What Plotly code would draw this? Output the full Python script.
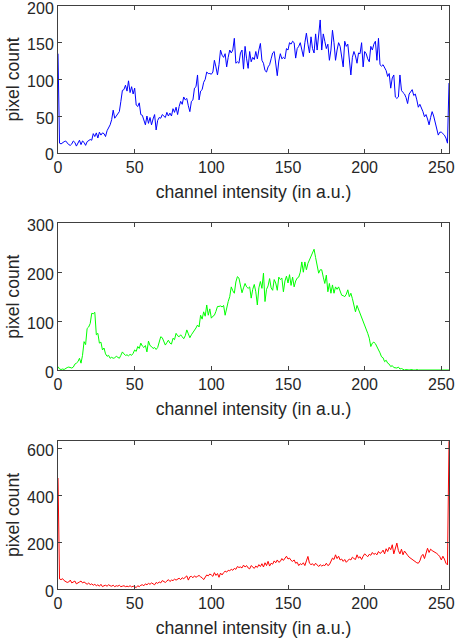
import plotly.graph_objects as go

channel = list(range(256))

blue_counts = [
    135, 13, 12, 14, 15, 16, 13, 11, 10, 12, 16, 14, 9, 13, 17, 11,
    16, 14, 10, 15, 16, 18, 17, 26, 22, 27, 20, 28, 24, 27, 26, 22,
    30, 34, 38, 45, 58, 47, 50, 52, 56, 70, 85, 86, 92, 84, 98, 82,
    90, 80, 88, 65, 63, 68, 52, 51, 45, 38, 50, 40, 48, 38, 46, 52,
    31, 44, 48, 47, 52, 50, 48, 55, 50, 54, 50, 60, 55, 62, 52, 63,
    70, 66, 76, 72, 74, 64, 56, 70, 72, 88, 90, 106, 72, 84, 86, 96,
    100, 110, 108, 108, 107, 110, 126, 117, 106, 120, 140, 133, 130, 135, 117, 130,
    140, 136, 140, 156, 122, 124, 122, 136, 140, 114, 145, 128, 115, 138, 124, 130,
    127, 138, 128, 140, 149, 126, 122, 112, 110, 117, 120, 128, 136, 138, 120, 105,
    125, 135, 128, 130, 128, 142, 140, 150, 148, 152, 150, 129, 142, 145, 150, 138,
    131, 150, 163, 148, 136, 158, 142, 136, 162, 140, 158, 181, 140, 162, 152, 142,
    148, 126, 140, 167, 150, 126, 140, 150, 145, 133, 117, 152, 145, 148, 130, 106,
    130, 138, 132, 122, 136, 135, 150, 117, 138, 135, 128, 124, 145, 140, 148, 152,
    126, 156, 120, 118, 120, 115, 112, 104, 108, 88, 102, 106, 76, 74, 76, 106,
    85, 82, 80, 75, 67, 80, 84, 86, 78, 80, 72, 62, 66, 62, 56, 49,
    52, 46, 38, 48, 56, 50, 42, 30, 24, 28, 28, 26, 24, 20, 13, 95,
]

green_counts = [
    7, 2, 1, 2, 1, 4, 5, 6, 5, 4, 6, 12, 14, 17, 24, 14,
    30, 58, 52, 85, 88, 95, 116, 115, 118, 72, 75, 55, 57, 41, 45, 33,
    28, 30, 24, 26, 24, 25, 28, 25, 24, 30, 37, 33, 30, 31, 29, 32,
    30, 34, 41, 38, 48, 44, 55, 49, 46, 50, 37, 59, 50, 48, 44, 46,
    42, 46, 58, 68, 66, 58, 51, 56, 61, 55, 53, 65, 62, 75, 70, 68,
    72, 68, 64, 70, 82, 74, 66, 72, 76, 82, 86, 92, 88, 112, 104, 119,
    110, 133, 112, 125, 106, 110, 112, 120, 130, 130, 131, 129, 132, 112, 128, 140,
    150, 170, 162, 157, 180, 191, 188, 172, 158, 168, 177, 170, 167, 170, 147, 165,
    175, 160, 133, 168, 181, 167, 198, 140, 165, 172, 187, 168, 163, 185, 178, 163,
    190, 185, 188, 160, 182, 192, 178, 195, 173, 190, 170, 182, 188, 190, 200, 221,
    200, 221, 205, 218, 225, 235, 240, 247, 230, 215, 198, 205, 205, 190, 177, 194,
    160, 177, 157, 174, 157, 170, 165, 170, 160, 153, 152, 150, 155, 164, 150, 157,
    146, 130, 119, 132, 124, 115, 110, 100, 92, 85, 75, 65, 48, 55, 57, 54,
    48, 44, 35, 27, 25, 17, 20, 14, 12, 7, 9, 5, 5, 4, 6, 2,
    3, 1, 0, 1, 0, 0, 1, 0, 0, 0, 1, 0, 0, 0, 0, 1,
    0, 0, 0, 0, 1, 0, 0, 0, 0, 0, 0, 1, 0, 0, 0, 0,
]

red_counts = [
    474, 43, 40, 44, 36, 32, 28, 30, 38, 26, 30, 34, 22, 28, 30, 34,
    26, 30, 24, 20, 26, 18, 22, 16, 20, 14, 18, 12, 20, 10, 14, 16,
    12, 18, 14, 12, 16, 10, 14, 12, 16, 10, 12, 14, 10, 12, 10, 14,
    9, 12, 10, 6, 14, 10, 16, 18, 14, 22, 18, 24, 20, 26, 22, 18,
    28, 24, 30, 26, 36, 30, 28, 34, 40, 32, 38, 36, 42, 38, 44, 46,
    40, 48, 44, 50, 56, 38, 52, 54, 48, 56, 50, 54, 58, 52, 48, 40,
    52, 60, 56, 64, 60, 54, 70, 58, 66, 50, 68, 60, 70, 76, 72, 80,
    78, 84, 80, 88, 84, 96, 92, 94, 90, 102, 94, 100, 90, 86, 100, 94,
    88, 98, 92, 104, 96, 108, 94, 112, 100, 118, 98, 110, 106, 120, 112, 124,
    114, 118, 130, 122, 134, 140, 128, 132, 122, 118, 124, 110, 114, 100, 108, 104,
    112, 100, 120, 139, 110, 104, 108, 100, 110, 102, 96, 104, 98, 102, 100, 110,
    100, 104, 120, 132, 126, 146, 130, 140, 124, 128, 118, 126, 114, 120, 128, 124,
    136, 130, 126, 146, 132, 138, 126, 140, 150, 144, 138, 148, 144, 156, 148, 152,
    146, 160, 152, 156, 166, 150, 172, 160, 178, 168, 189, 150, 170, 196, 164, 150,
    170, 146, 162, 150, 144, 136, 131, 126, 120, 118, 112, 110, 120, 140, 148, 130,
    150, 174, 156, 170, 164, 160, 158, 152, 146, 138, 124, 140, 128, 110, 103, 631,
]

x_ticks = [0, 50, 100, 150, 200, 250]
y_ticks_top = [0, 50, 100, 150, 200]
y_ticks_mid = [0, 100, 200, 300]
y_ticks_bot = [0, 200, 400, 600]

W, H = 456, 643
M_L, M_R, M_T, M_B = 58, 7, 6, 54
plot_h = H - M_T - M_B

def ydom(top_px, bot_px):
    base = H - M_B
    return [(base - bot_px) / plot_h, (base - top_px) / plot_h]

axis_col = "#404040"
text_col = "#262626"
font_family = "Liberation Sans, Arial, sans-serif"

fig = go.Figure()
series = [
    (blue_counts, "#0000ff", "x", "y"),
    (green_counts, "#00ff00", "x2", "y2"),
    (red_counts, "#ff0000", "x3", "y3"),
]
for vals, col, xa, ya in series:
    fig.add_trace(go.Scatter(x=channel, y=vals, mode="lines",
                             line=dict(color=col, width=1),
                             xaxis=xa, yaxis=ya, showlegend=False,
                             cliponaxis=False, hoverinfo="skip"))

common_x = dict(range=[0, 255], tickvals=x_ticks, ticks="inside", ticklen=4,
                tickcolor=axis_col, showline=True, linecolor=axis_col, linewidth=1,
                mirror="ticks", showgrid=False, zeroline=False, automargin=False,
                ticklabeloverflow="allow",
                tickfont=dict(size=16, color=text_col, family=font_family),
                title=dict(text="channel intensity (in a.u.)",
                           font=dict(size=17.6, color=text_col, family=font_family),
                           standoff=10))
common_y = dict(ticks="inside", ticklen=4, tickcolor=axis_col, showline=True,
                linecolor=axis_col, linewidth=1, mirror="ticks", showgrid=False,
                zeroline=False, automargin=False, ticklabeloverflow="allow",
                ticklabelshift=2,
                tickfont=dict(size=16, color=text_col, family=font_family),
                title=dict(text="pixel count",
                           font=dict(size=17.6, color=text_col, family=font_family),
                           standoff=2))

fig.update_layout(
    width=W, height=H,
    margin=dict(l=M_L, r=M_R, t=M_T, b=M_B),
    paper_bgcolor="white", plot_bgcolor="white",
    xaxis=dict(domain=[0, 1], anchor="y", **common_x),
    yaxis=dict(domain=ydom(6.0, 152.7), anchor="x", range=[0, 200.05],
               tickvals=y_ticks_top, **common_y),
    xaxis2=dict(domain=[0, 1], anchor="y2", **common_x),
    yaxis2=dict(domain=ydom(223.3, 370.0), anchor="x2", range=[0, 300.05],
                tickvals=y_ticks_mid, **common_y),
    xaxis3=dict(domain=[0, 1], anchor="y3", **common_x),
    yaxis3=dict(domain=ydom(441.0, 589.0), anchor="x3", range=[0, 632],
                tickvals=y_ticks_bot, **common_y),
)

fig.write_html("out.html", config={"displayModeBar": False},
               post_script="document.body.style.margin='0';document.body.style.overflow='hidden';")
